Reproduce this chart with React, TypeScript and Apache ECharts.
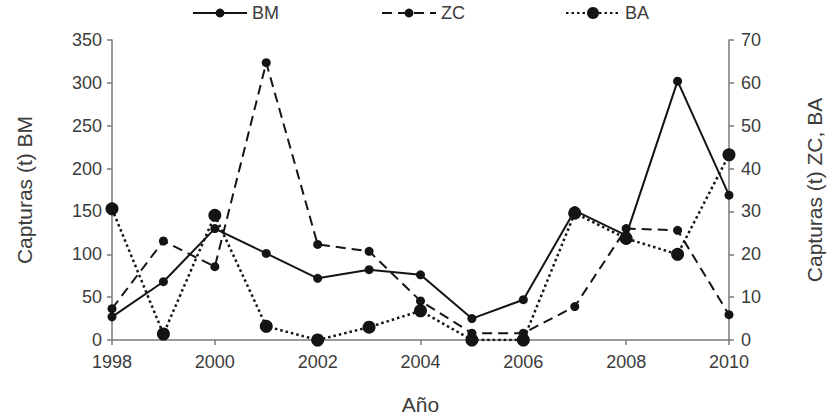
import React, { useEffect, useRef } from "react";
import * as echarts from "echarts";

const years = [1998, 1999, 2000, 2001, 2002, 2003, 2004, 2005, 2006, 2007, 2008, 2009, 2010];
const bm = [27, 68, 130, 101, 72, 82, 76, 25, 47, 151, 122, 302, 169];
const zc = [7.3, 23.1, 17.1, 64.7, 22.3, 20.7, 9.1, 1.6, 1.6, 7.8, 26, 25.6, 5.9];
const ba = [30.6, 1.4, 29.1, 3.2, 0, 3.0, 6.8, 0, 0, 29.6, 23.7, 20.0, 43.2];

const leftTicks = { min: 0, max: 350, interval: 50 };
const rightTicks = { min: 0, max: 70, interval: 10 };
const xTicks = { min: 1998, max: 2010, interval: 2 };

const FONT = "'Liberation Sans', Arial, sans-serif";
const TXT = "#3c3c3c";
const AX = "#7a7a7a";
const INK = "#141414";

export default function App() {
  const ref = useRef<HTMLDivElement>(null);
  useEffect(() => {
    document.body.style.margin = "0";
    const chart = echarts.init(ref.current!, undefined, { renderer: "svg" });
    const pair = (arr: number[]) => years.map((y, i) => [y, arr[i]]);
    const axisCommon = {
      axisLine: { show: true, lineStyle: { color: AX, width: 1.5 } },
      axisTick: { show: true, inside: false, length: 5, lineStyle: { color: AX, width: 1.5 } },
      splitLine: { show: false },
      axisLabel: { color: TXT, fontSize: 18, fontFamily: FONT },
      nameTextStyle: { color: TXT, fontSize: 21, fontFamily: FONT },
    };
    const legendCommon = {
      top: 4,
      itemWidth: 54,
      itemHeight: 11,
      itemGap: 6,
      textStyle: { color: TXT, fontSize: 18, fontFamily: FONT },
      padding: 0,
    };
    chart.setOption({
      animation: false,
      backgroundColor: "#ffffff",
      textStyle: { fontFamily: FONT },
      legend: [
        { ...legendCommon, left: 192, data: ["BM"] },
        { ...legendCommon, left: 381, data: ["ZC"] },
        { ...legendCommon, left: 565, itemHeight: 15, data: ["BA"] },
      ],
      grid: { left: 112, right: 97, top: 40, bottom: 78, containLabel: false },
      xAxis: {
        type: "value",
        ...xTicks,
        name: "Año",
        nameLocation: "middle",
        nameGap: 54,
        ...axisCommon,
        axisLabel: { ...axisCommon.axisLabel, margin: 13, formatter: (v: number) => String(v) },
      },
      yAxis: [
        {
          type: "value",
          ...leftTicks,
          position: "left",
          name: "Capturas (t) BM",
          nameLocation: "middle",
          nameRotate: 90,
          nameGap: 77,
          ...axisCommon,
          axisLabel: { ...axisCommon.axisLabel, margin: 10 },
        },
        {
          type: "value",
          ...rightTicks,
          position: "right",
          name: "Capturas (t) ZC, BA",
          nameLocation: "middle",
          nameRotate: 90,
          nameGap: 75,
          ...axisCommon,
          axisLabel: { ...axisCommon.axisLabel, margin: 12 },
        },
      ],
      series: [
        {
          name: "BM",
          type: "line",
          yAxisIndex: 0,
          data: pair(bm),
          symbol: "circle",
          symbolSize: 9,
          lineStyle: { color: INK, width: 2, type: "solid" },
          itemStyle: { color: INK },
          z: 3,
        },
        {
          name: "ZC",
          type: "line",
          yAxisIndex: 1,
          data: pair(zc),
          symbol: "circle",
          symbolSize: 9,
          lineStyle: { color: INK, width: 2, type: [10, 6] },
          itemStyle: { color: INK },
          z: 2,
        },
        {
          name: "BA",
          type: "line",
          yAxisIndex: 1,
          data: pair(ba),
          symbol: "circle",
          symbolSize: 13,
          lineStyle: { color: INK, width: 2.5, type: [2.5, 3] },
          itemStyle: { color: INK },
          z: 4,
        },
      ],
    });
    return () => chart.dispose();
  }, []);
  return <div ref={ref} style={{ width: 833, height: 420 }} />;
}
